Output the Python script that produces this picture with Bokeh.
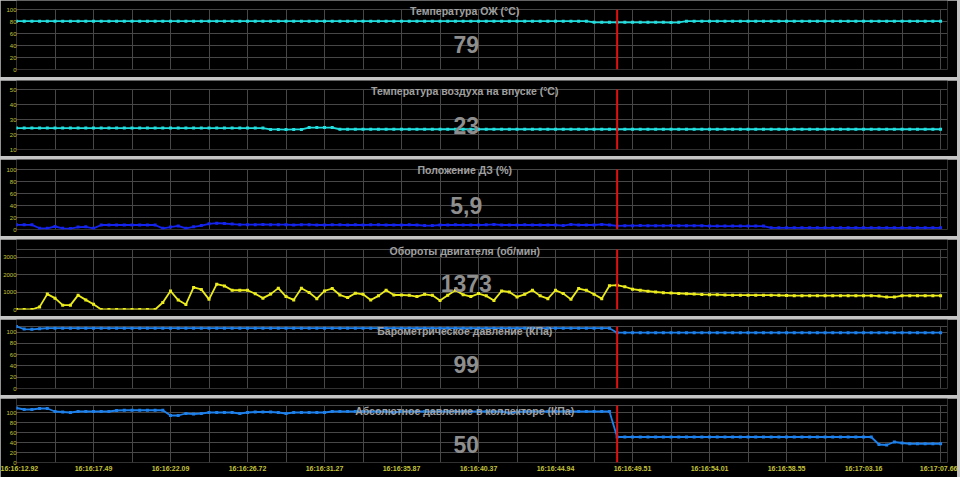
from bokeh.plotting import figure
from bokeh.layouts import column
from bokeh.models import FixedTicker, Label, Range1d
from bokeh.embed import file_html
from bokeh.resources import INLINE

# ---------------- data ----------------
sample_index = list(range(121))
cursor_index = 78
tick_positions = [0, 10, 20, 30, 40, 50, 60, 70, 80, 90, 100, 110, 120]
time_labels = ["16:16:12.92", "16:16:17.49", "16:16:22.09", "16:16:26.72", "16:16:31.27",
               "16:16:35.87", "16:16:40.37", "16:16:44.94", "16:16:49.51", "16:16:54.01",
               "16:16:58.55", "16:17:03.16", "16:17:07.66"]

titles = ["Температура ОЖ  (°C)",
          "Температура воздуха на впуске  (°C)",
          "Положение ДЗ  (%)",
          "Обороты двигателя  (об/мин)",
          "Барометрическое давление  (КПа)",
          "Абсолютное давление в коллекторе  (КПа)"]
cursor_values = ["79", "23", "5,9", "1373", "99", "50"]

coolant_temp = [
    81, 81, 81, 81, 81, 81, 81, 81, 81, 81,
    81, 81, 81, 81, 81, 81, 81, 81, 81, 81,
    81, 81, 81, 81, 81, 81, 81, 81, 81, 81,
    81, 81, 81, 81, 81, 81, 81, 81, 81, 81,
    81, 81, 81, 81, 81, 81, 81, 81, 81, 81,
    81, 81, 81, 81, 81, 81, 81, 81, 81, 81,
    81, 81, 81, 81, 81, 81, 81, 81, 81, 81,
    81, 81, 81, 81, 81, 79, 79, 79, 79, 79,
    79, 79, 79, 79, 79, 78.6, 79, 81, 81, 81,
    81, 81, 81, 81, 81, 81, 81, 81, 81, 81,
    81, 81, 81, 81, 81, 81, 81, 81, 81, 81,
    81, 81, 81, 81, 81, 81, 81, 81, 81, 81,
    81]

intake_temp = [
    24.3, 24.3, 24.3, 24.3, 24.3, 24.3, 24.3, 24.3, 24.3, 24.3,
    24.3, 24.3, 24.3, 24.3, 24.3, 24.3, 24.3, 24.3, 24.3, 24.3,
    24.3, 24.3, 24.3, 24.3, 24.3, 24.3, 24.3, 24.3, 24.3, 24.3,
    24.3, 24.3, 24.3, 23.4, 23.4, 23.3, 23.4, 23.4, 24.6, 24.6,
    24.6, 24.6, 23.5, 23.5, 23.5, 23.5, 23.5, 23.5, 23.5, 23.5,
    23.5, 23.5, 23.5, 23.5, 23.5, 23.5, 23.5, 23.5, 23.5, 23.5,
    23.5, 23.5, 23.5, 23.5, 23.5, 23.5, 23.5, 23.5, 23.5, 23.5,
    23.5, 23.5, 23.5, 23.5, 23.5, 23.5, 23.5, 23.5, 23.5, 23.5,
    23.5, 23.5, 23.5, 23.5, 23.5, 23.5, 23.5, 23.5, 23.5, 23.5,
    23.5, 23.5, 23.5, 23.5, 23.5, 23.5, 23.5, 23.5, 23.5, 23.5,
    23.5, 23.5, 23.5, 23.5, 23.5, 23.5, 23.5, 23.5, 23.5, 23.5,
    23.5, 23.5, 23.5, 23.5, 23.5, 23.5, 23.5, 23.5, 23.5, 23.5,
    23.5]

throttle_pos = [
    7.8, 7.8, 7.8, 2.0, 2.0, 5.0, 2.0, 1.5, 4.0, 4.5,
    2.0, 7.5, 7.5, 7.5, 7.5, 7.5, 7.5, 7.5, 7.5, 2.0,
    4.0, 6.0, 2.0, 4.5, 6.5, 9.5, 10.5, 10.0, 9.0, 8.0,
    8.0, 8.0, 8.5, 8.0, 8.0, 8.0, 7.5, 8.0, 8.0, 7.5,
    7.5, 7.8, 7.8, 7.5, 7.8, 7.5, 7.8, 7.8, 7.5, 7.5,
    7.5, 7.8, 7.5, 6.5, 6.5, 7.5, 7.5, 7.8, 7.5, 7.5,
    7.5, 7.8, 8.5, 7.5, 7.5, 7.5, 7.8, 7.5, 7.5, 7.5,
    7.5, 6.5, 8.5, 7.5, 7.5, 7.5, 8.5, 7.5, 5.9, 6.3,
    6.3, 6.5, 6.3, 6.3, 6.3, 6.5, 6.3, 6.3, 6.3, 6.3,
    5.7, 5.7, 5.7, 5.7, 5.7, 5.7, 5.7, 5.7, 2.8, 2.8,
    2.8, 2.8, 2.8, 2.8, 2.8, 2.8, 2.8, 2.8, 2.8, 2.8,
    2.8, 2.8, 2.8, 2.8, 2.8, 2.8, 2.8, 2.8, 2.8, 2.8,
    2.8]

engine_rpm = [
    0, 0, 0, 150, 880, 650, 250, 250, 820, 550,
    300, 0, 0, 0, 0, 0, 0, 0, 0, 400,
    1060, 540, 290, 1260, 1150, 580, 1450, 1350, 1100, 1100,
    1100, 900, 650, 880, 1220, 740, 550, 1220, 970, 620,
    1060, 1200, 830, 680, 930, 870, 540, 780, 1100, 830,
    830, 810, 740, 870, 810, 520, 810, 1100, 850, 740,
    910, 780, 520, 1060, 1000, 720, 870, 1100, 780, 620,
    1100, 910, 580, 1200, 1100, 870, 620, 1360, 1390, 1300,
    1160, 1100, 1050, 1000, 960, 940, 920, 900, 880, 860,
    850, 850, 830, 820, 820, 820, 820, 820, 820, 810,
    800, 790, 790, 790, 790, 790, 790, 790, 790, 790,
    790, 790, 770, 710, 710, 790, 790, 790, 790, 790,
    790]

baro_pressure = [
    110, 105.5, 105, 106, 107, 107, 107, 107, 107, 107,
    107, 107, 107, 107, 107, 107, 107, 107, 107, 107,
    107, 107, 107, 107, 107, 107, 107, 107, 107, 107,
    107, 107, 107, 107, 107, 107, 107, 107, 107, 107,
    107, 107, 107, 107, 107, 107, 107, 107, 107, 107,
    107, 107, 107, 107, 107, 107, 107, 107, 107, 107,
    107, 107, 107, 107, 107, 107, 107, 107, 107, 107,
    107, 107, 107, 107, 107, 107, 107, 107, 99, 99,
    99, 99, 99, 99, 99, 99, 99, 99, 99, 99,
    99, 99, 99, 99, 99, 99, 99, 99, 99, 99,
    99, 99, 99, 99, 99, 99, 99, 99, 99, 99,
    99, 99, 99, 99, 99, 99, 99, 99, 99, 99,
    99]

manifold_pressure = [
    109, 106, 106, 108, 108, 102, 101, 100, 102, 102,
    102, 102, 102, 104, 104.5, 104.5, 104.5, 104.5, 104.5, 104.5,
    94, 94, 98, 97, 98, 100, 100, 100, 100, 98,
    100, 101, 101, 101, 100, 98, 100, 100, 100, 100,
    100, 102, 102, 102, 102, 102, 102, 102, 102, 100,
    102, 102, 102, 102, 102, 102, 102, 102, 102, 102,
    102, 102, 102, 102, 99, 101, 102, 102, 102, 102,
    102, 102, 102, 102, 102, 102, 102, 102, 51, 51,
    51, 51, 51, 51, 51, 51, 51, 51, 51, 51,
    51, 51, 51, 51, 51, 51, 51, 51, 51, 51,
    51, 51, 51, 51, 51, 51, 51, 51, 51, 51,
    51, 51, 36, 35, 41, 39, 37.5, 37.5, 37.5, 37.5,
    37.5]

series = [coolant_temp, intake_temp, throttle_pos, engine_rpm, baro_pressure, manifold_pressure]
y_bottom = [0, 10, 0, 0, 0, 0]
y_grid_top = [100, 50, 100, 3430, 110, 114]
y_ticks = [[0, 20, 40, 60, 80, 100], [10, 20, 30, 40, 50], [0, 20, 40, 60, 80, 100],
           [0, 1000, 2000, 3000], [0, 20, 40, 60, 80, 100], [0, 20, 40, 60, 80, 100]]
grid_ticks = [[0, 20, 40, 60, 80, 100], [10, 20, 30, 40, 50], [0, 20, 40, 60, 80, 100],
              [0, 1000, 2000, 3000, 3430], [0, 20, 40, 60, 80, 100, 110],
              [0, 20, 40, 60, 80, 100, 114]]

# ---------------- styling / layout (pixels) ----------------
colors = ["#22dede", "#22dede", "#1424ee", "#ecec1c", "#1e80ea", "#1e80ea"]
heights = [77, 76, 77, 77, 76, 79]
borders_bottom = [8, 7, 7, 7, 7, 15]
grid_top_px = [9.3, 9, 10, 10, 7, 7]        # grid top below panel top
title_base_px = [10, 10, 10, 11, 11, 12]    # title baseline below panel top
value_mid_px = [44, 45, 46, 44, 45, 46]     # big value centre below panel top
FONT = "Liberation Sans"
GRID = "#474747"
TICK_COLOR = "#c4c43a"

figs = []
for k in range(6):
    last = (k == 5)
    frame_h = heights[k] - borders_bottom[k]
    scale = (frame_h - grid_top_px[k]) / (y_grid_top[k] - y_bottom[k])
    y_top = y_grid_top[k] + grid_top_px[k] / scale

    p = figure(width=957, height=heights[k], output_backend="svg", toolbar_location=None,
               x_range=Range1d(0, 120.9), y_range=Range1d(y_bottom[k], y_top),
               min_border_left=16, min_border_right=10,
               min_border_top=0, min_border_bottom=borders_bottom[k])
    p.background_fill_color = "#000000"
    p.border_fill_color = "#000000"
    p.outline_line_color = None

    p.xgrid.ticker = FixedTicker(ticks=list(range(0, 121, 5)))
    p.xgrid.cross_bounds = (y_bottom[k], y_grid_top[k])
    p.ygrid.ticker = FixedTicker(ticks=grid_ticks[k])
    for g in (p.xgrid, p.ygrid):
        g.grid_line_color = GRID
        g.grid_line_width = 1

    p.yaxis.ticker = FixedTicker(ticks=y_ticks[k])
    p.yaxis.axis_line_color = None
    p.yaxis.major_tick_line_color = None
    p.yaxis.minor_tick_line_color = None
    p.yaxis.major_tick_out = 0
    p.yaxis.major_tick_in = 0
    p.yaxis.minor_tick_out = 0
    p.yaxis.minor_tick_in = 0
    p.yaxis.major_label_text_font_size = "6px"
    p.yaxis.major_label_text_color = TICK_COLOR
    p.yaxis.major_label_text_font = FONT
    p.yaxis.major_label_standoff = 0

    if last:
        p.xaxis.ticker = FixedTicker(ticks=tick_positions)
        p.xaxis.major_label_overrides = {t: lab for t, lab in zip(tick_positions, time_labels)}
        p.xaxis.axis_line_color = None
        p.xaxis.major_tick_line_color = None
        p.xaxis.minor_tick_line_color = None
        p.xaxis.major_tick_out = 0
        p.xaxis.major_tick_in = 0
        p.xaxis.minor_tick_out = 0
        p.xaxis.minor_tick_in = 0
        p.xaxis.major_label_text_font_size = "7px"
        p.xaxis.major_label_text_font_style = "bold"
        p.xaxis.major_label_text_color = TICK_COLOR
        p.xaxis.major_label_text_font = FONT
        p.xaxis.major_label_standoff = 2
    else:
        p.xaxis.visible = False

    p.line(sample_index, series[k], line_color=colors[k], line_width=1.8)
    p.scatter(sample_index, series[k], marker="square", size=3,
              fill_color=colors[k], line_color=None)

    # cursor line across the grid area only
    p.segment(x0=[cursor_index], y0=[y_bottom[k]], x1=[cursor_index], y1=[y_grid_top[k]],
              line_color="#e01010", line_width=2)

    p.add_layout(Label(x=58.4, y=y_top - title_base_px[k] / scale, text=titles[k],
                       text_align="center", text_baseline="alphabetic",
                       text_font=FONT, text_font_style="bold", text_font_size="10.5px",
                       text_color="#a0a0a0"))
    p.add_layout(Label(x=58.4, y=y_top - value_mid_px[k] / scale, text=cursor_values[k],
                       text_align="center", text_baseline="middle",
                       text_font=FONT, text_font_style="bold", text_font_size="23px",
                       text_color="#8e8e8e"))
    figs.append(p)

layout = column(*figs, spacing=3, width=960, height=477,
                styles={"background-color": "#c4c4c4"})

open("out.html", "w").write(file_html(layout, INLINE))
